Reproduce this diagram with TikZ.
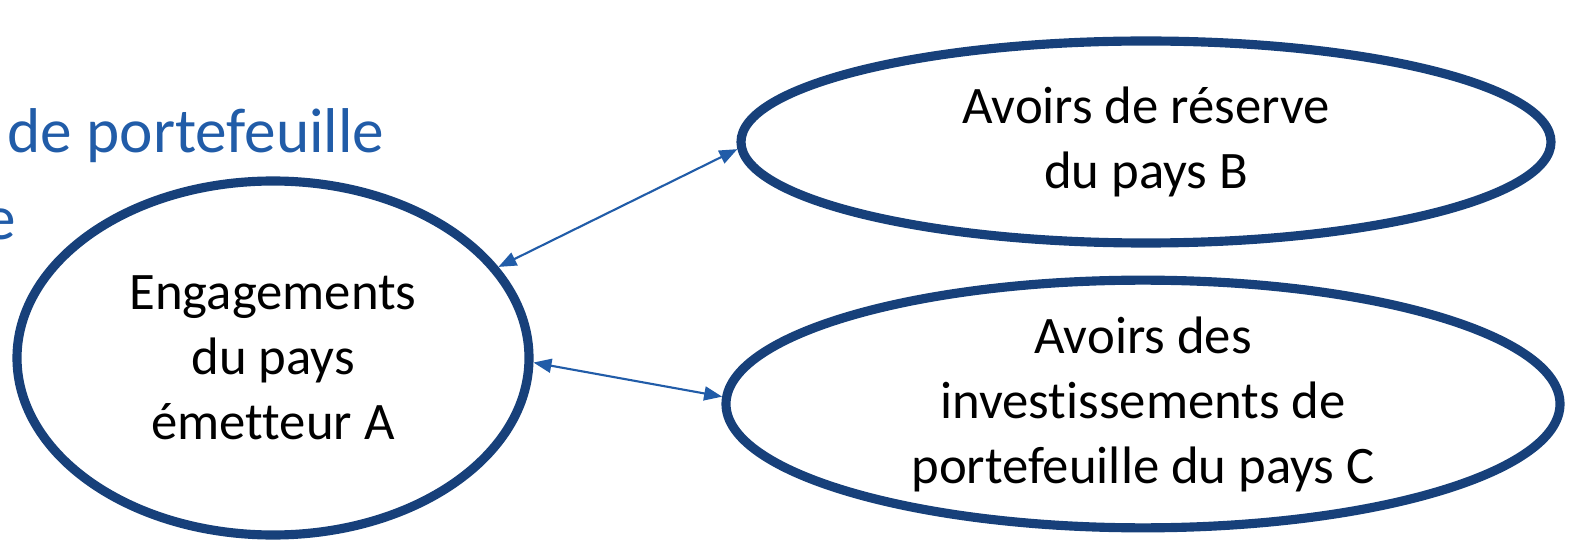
\documentclass[tikz,border=0pt]{standalone}
\usepackage{fontspec}
\setmainfont{Carlito}[Ligatures=NoCommon]
\usepackage{tikz}
\usetikzlibrary{arrows.meta,positioning,shapes.geometric}
\definecolor{navyln}{HTML}{17407A}
\definecolor{textblue}{HTML}{215CA8}
\tikzset{
  bubble/.style={ellipse, draw=navyln, line width=2.6pt, inner sep=0pt,
    align=center, font=\fontsize{15}{18.5}\selectfont},
  link/.style={{Triangle[length=1.8mm,width=1.4mm]}-{Triangle[length=1.8mm,width=1.4mm]},
    line width=0.6pt, textblue},
  cuttext/.style={textblue, inner sep=0pt, font=\fontsize{18}{21}\selectfont},
}
\begin{document}
\begin{tikzpicture}
        \useasboundingbox (0,0) rectangle (15.76,-5.43);
        % clipped title lines at the left border
        \node[cuttext, anchor=base west] (ttl1) at (0.07,-1.53) {de portefeuille};
        \node[cuttext, anchor=base east] (ttl2) at (0.17,-2.40) {e};
        % the three holders
        \node[bubble, minimum width=5.12cm, minimum height=3.54cm] (engA)
          at (2.73,-3.58) {Engagements\\du pays\\émetteur A};
        \node[bubble, minimum width=8.1cm, minimum height=2.02cm] (resB)
          at (11.46,-1.42) {Avoirs de réserve\\du pays B};
        \node[bubble, minimum width=8.34cm, minimum height=2.44cm] (invC)
          at (11.43,-4.04) {Avoirs des\\investissements de\\portefeuille du pays C};
        \draw[link] (engA.22) -- (resB.181);
        \draw[link] (engA.-1) -- (invC.179);
      \end{tikzpicture}
\end{document}
